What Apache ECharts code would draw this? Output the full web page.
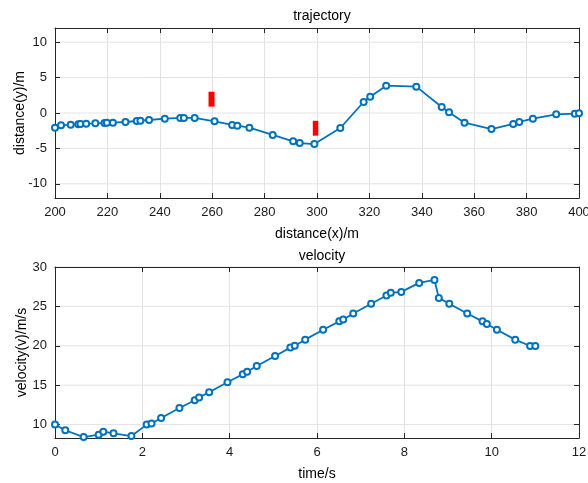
<!DOCTYPE html>
<html>
<head>
<meta charset="utf-8">
<script src="https://cdn.jsdelivr.net/npm/echarts@6/dist/echarts.min.js"></script>
<style>html,body{margin:0;padding:0;background:#fff}#c{width:588px;height:483px}</style>
</head>
<body>
<div id="c"></div>
<script>
// Trajectory data
var trajX = [200,202.3,206,208.9,209.7,211.9,215.4,218.9,219.8,222.1,226.9,231.2,232.6,235.9,241.9,247.8,249.2,253.3,260.9,267.6,269.6,274.2,283.1,290.9,293.4,299.0,308.9,317.8,320.3,326.4,337.9,347.6,350.4,356.3,366.6,374.9,377.2,382.4,391.3,398.4,400];
var trajY = [-2.07,-1.74,-1.65,-1.6,-1.55,-1.5,-1.46,-1.41,-1.36,-1.36,-1.27,-1.13,-1.08,-0.99,-0.8,-0.7,-0.7,-0.7,-1.18,-1.69,-1.79,-2.07,-3.1,-4.0,-4.24,-4.38,-2.12,1.55,2.3,3.86,3.72,0.85,0.09,-1.36,-2.26,-1.55,-1.27,-0.8,-0.19,-0.09,-0.05];
// Obstacles: [xMin, yMin, xMax, yMax]
var obstacles = [[258.6,0.9,260.9,3.0],[298.4,-3.2,300.5,-1.1]];
// Velocity data
var timeS = [0,0.236,0.656,1.0,1.106,1.34,1.75,2.10,2.21,2.43,2.85,3.2,3.3,3.53,3.95,4.30,4.40,4.62,5.04,5.39,5.49,5.73,6.14,6.51,6.60,6.83,7.24,7.59,7.69,7.93,8.34,8.69,8.79,9.03,9.44,9.79,9.89,10.12,10.54,10.88,11.0];
var velV = [10,9.28,8.42,8.72,9.1,8.9,8.55,10.0,10.13,10.84,12.1,13.1,13.45,14.1,15.37,16.4,16.7,17.43,18.7,19.77,20.0,20.78,22.04,23.1,23.35,24.1,25.33,26.38,26.72,26.84,27.98,28.36,26.08,25.33,24.1,23.1,22.76,22.04,20.78,19.98,19.98];
// Tick labels
var trajYTicks = [-10,-5,0,5,10];
var velYTicks = [10,15,20,25,30];

var trajData = trajX.map(function(x,i){return [x,trajY[i]];});
var velData = timeS.map(function(t,i){return [t,velV[i]];});

var FONT = 'Liberation Sans, Arial, sans-serif';
var blue = '#0072BD';
var axisCol = '#262626';
var gridCol = '#e3e3e3';

function axis(gridIndex, min, max, pos, name, nameGap, showLabel, ticks, interval){
  var a = {
    type:'value', gridIndex:gridIndex, min:min, max:max,
    position: pos,
    axisLine:{show:true,onZero:false,lineStyle:{color:axisCol,width:1}},
    axisTick:{show:true,inside:true,length:5,lineStyle:{color:axisCol}},
    axisLabel:{show:showLabel,fontFamily:FONT,fontSize:13,color:'#1a1a1a',margin:8},
    splitLine:{show:showLabel,lineStyle:{color:gridCol,width:1}}
  };
  if (name) {
    a.name = name; a.nameLocation = 'middle'; a.nameGap = nameGap;
    a.nameTextStyle = {fontFamily:FONT,fontSize:14,color:'#000'};
  }
  if (interval) a.interval = interval;
  if (ticks) {
    a.axisLabel.customValues = ticks;
    a.axisTick.customValues = ticks;
  }
  return a;
}

var option = {
  animation:false,
  backgroundColor:'#fff',
  title:[
    {text:'trajectory',left:317,top:4,textAlign:'center',textStyle:{fontFamily:FONT,fontSize:14,fontWeight:'normal',color:'#000'}},
    {text:'velocity',left:317,top:244,textAlign:'center',textStyle:{fontFamily:FONT,fontSize:14,fontWeight:'normal',color:'#000'}}
  ],
  grid:[
    {left:55,top:28,width:524,height:170,containLabel:false,outerBoundsMode:'none'},
    {left:55,top:267,width:524,height:171,containLabel:false,outerBoundsMode:'none'}
  ],
  xAxis:[
    axis(0,200,400,'bottom','distance(x)/m',29,true,null,20),
    axis(0,200,400,'top',null,0,false,null,20),
    axis(1,0,12,'bottom','time/s',29,true,null,2),
    axis(1,0,12,'top',null,0,false,null,2)
  ],
  yAxis:[
    axis(0,-12,12,'left','distance(y)/m',28,true,trajYTicks,null),
    axis(0,-12,12,'right',null,0,false,trajYTicks,null),
    axis(1,8.3,30,'left','velocity(v)/m/s',26,true,velYTicks,null),
    axis(1,8.3,30,'right',null,0,false,velYTicks,null)
  ],
  series:[
    {
      type:'custom', xAxisIndex:0, yAxisIndex:0, data:obstacles,
      renderItem:function(params,api){
        var p1 = api.coord([api.value(0),api.value(3)]);
        var p2 = api.coord([api.value(2),api.value(1)]);
        return {type:'rect',shape:{x:p1[0],y:p1[1],width:p2[0]-p1[0],height:p2[1]-p1[1]},style:{fill:'#ff0000'}};
      },
      encode:{x:[0,2],y:[1,3]}
    },
    {
      type:'line', xAxisIndex:0, yAxisIndex:0, data:trajData,
      symbol:'emptyCircle', symbolSize:6, showAllSymbol:true,
      lineStyle:{color:blue,width:1.8}, itemStyle:{color:blue,borderWidth:1.5}
    },
    {
      type:'line', xAxisIndex:2, yAxisIndex:2, data:velData,
      symbol:'emptyCircle', symbolSize:6, showAllSymbol:true,
      lineStyle:{color:blue,width:1.8}, itemStyle:{color:blue,borderWidth:1.5}
    }
  ]
};
option.yAxis[0].nameMoveOverlap = false;
option.yAxis[2].nameMoveOverlap = false;
option.xAxis[0].nameMoveOverlap = false;
option.xAxis[2].nameMoveOverlap = false;

// Horizontal grid lines at the labelled tick values (drawn through the axes' scales)
function gridLines(xi, yi, vals, xmin, xmax){
  return {
    type:'custom', xAxisIndex:xi, yAxisIndex:yi, z:0, silent:true,
    data: vals.map(function(v){return [xmin, v, xmax];}),
    renderItem:function(params,api){
      var p1 = api.coord([api.value(0),api.value(1)]);
      var p2 = api.coord([api.value(2),api.value(1)]);
      return {type:'line',shape:{x1:p1[0],y1:p1[1],x2:p2[0],y2:p2[1]},style:{stroke:gridCol,lineWidth:1}};
    }
  };
}
option.yAxis[0].splitLine.show = false;
option.yAxis[2].splitLine.show = false;
option.series.unshift(gridLines(0,0,trajYTicks,200,400));
option.series.unshift(gridLines(2,2,velYTicks,0,12));

var chart = echarts.init(document.getElementById('c'),null,{renderer:'canvas'});
chart.setOption(option);
</script>
</body>
</html>
